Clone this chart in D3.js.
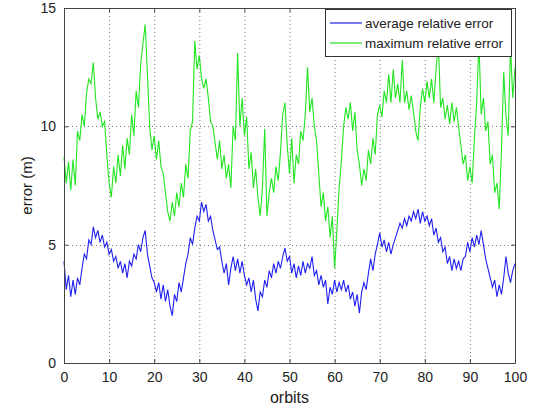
<!DOCTYPE html>
<html>
<head>
<meta charset="utf-8">
<style>
    body { margin: 0; background: #fff; }
    text { font-family: "Liberation Sans", Arial, sans-serif; fill: #222; }
    .grid line { stroke: #777; stroke-width: 1; stroke-dasharray: 1,3; }
</style>
</head>
<body>
<svg width="540" height="411"></svg>
<script src="https://cdn.jsdelivr.net/npm/d3@7"></script>
<script>
    // samples every half orbit, 0 .. 100
    var step = 0.5

    var avgError = [
        4.3, 3.1, 3.7, 2.8, 3.5, 2.9, 3.6, 3.3, 4.0, 4.6,
        4.4, 5.2, 5.0, 5.75, 5.3, 5.6, 5.1, 5.4, 4.9, 5.1,
        4.6, 4.8, 4.3, 4.5, 4.0, 4.3, 3.8, 4.2, 3.6, 4.3,
        4.1, 4.6, 4.4, 5.0, 4.7, 5.3, 5.6, 4.6, 4.1, 3.6,
        3.4, 3.0, 3.4, 2.7, 3.3, 2.6, 3.1, 2.4, 2.0, 2.9,
        2.6, 3.4, 3.0, 3.6, 4.2, 4.6, 5.3, 5.0, 5.7, 6.2,
        6.0, 6.8, 6.4, 6.7, 6.0, 6.2, 5.6, 5.2, 4.8, 4.9,
        4.3, 3.8, 4.2, 3.3, 4.0, 4.5, 3.9, 4.4, 3.8, 4.3,
        3.7, 3.3, 3.6, 3.0, 3.5, 2.7, 2.2, 3.0, 2.8, 3.5,
        3.2, 3.9, 3.6, 4.2, 3.8, 4.3, 4.0, 4.5, 4.85, 4.3,
        4.5, 3.8, 4.2, 3.6, 4.1, 3.7, 4.3, 3.8, 4.2, 4.0,
        4.5, 3.7, 3.9, 3.3, 3.7, 3.2, 3.5, 2.5, 3.2, 2.9,
        3.5, 3.0, 3.4, 3.1, 3.5, 3.0, 3.3, 2.7, 3.0, 2.4,
        2.9, 2.1, 3.0, 3.4, 3.1, 3.8, 4.4, 3.9, 4.6, 5.0,
        5.5, 4.9, 5.2, 4.7, 5.1, 4.6, 5.0, 5.3, 5.6, 5.9,
        5.7, 6.1, 5.8, 6.2, 6.0, 6.4, 6.1, 6.5, 5.9, 6.4,
        6.0, 6.2, 5.8, 6.1, 5.4, 5.7, 5.1, 5.3, 4.7, 4.9,
        4.2, 4.5, 3.9, 4.4, 4.0, 4.3, 3.9, 4.4, 4.5, 5.1,
        4.7, 5.3, 4.9, 5.4, 5.0, 5.6, 5.0, 4.4, 4.0, 3.6,
        3.2, 3.5, 2.8, 3.3, 2.9, 3.6, 4.5, 3.8, 3.4, 3.9,
        4.2
    ]

    var maxError = [
        8.7, 7.6, 8.5, 7.3, 8.6, 7.5, 9.8, 9.4, 10.5, 10.0,
        11.4, 12.0, 11.8, 12.7, 11.2, 10.3, 10.6, 10.0, 10.2, 8.8,
        7.6, 7.0, 8.3, 7.6, 8.8, 7.9, 9.2, 8.2, 9.5, 8.8,
        10.5, 9.6, 11.5, 10.8, 12.6, 13.5, 14.3, 12.2, 10.0, 9.0,
        9.6, 8.6, 9.4, 8.3, 8.0, 7.2, 6.4, 6.0, 6.8, 6.2,
        7.2, 6.6, 7.6, 7.0, 8.4, 7.8, 9.8, 10.2, 13.6, 12.4,
        13.0, 12.0, 11.6, 12.0, 11.2, 10.2, 10.0, 9.3, 8.6, 9.4,
        8.2, 8.8, 7.8, 8.4, 7.4, 10.0, 9.4, 13.1, 10.0, 11.2,
        9.6, 10.4, 8.2, 8.9, 7.4, 8.2, 7.0, 6.2, 7.4, 9.9,
        6.2, 7.2, 7.8, 7.2, 8.3, 7.7, 8.9, 10.5, 11.0, 9.2,
        8.0, 9.5, 7.6, 8.8, 8.4, 9.8, 9.4, 10.5, 12.5, 10.6,
        11.2, 10.0, 9.4, 8.0, 6.6, 7.2, 6.0, 6.6, 5.3, 6.2,
        4.0, 5.6, 7.4, 8.5, 10.0, 10.8, 10.3, 11.0, 9.8, 10.6,
        9.0, 8.4, 7.5, 8.2, 7.7, 9.0, 8.4, 9.5, 8.8, 10.5,
        10.9, 10.4, 11.5, 11.0, 12.2, 11.0, 12.4, 11.2, 11.8, 11.0,
        12.8, 11.0, 11.5, 10.7, 11.3, 10.6, 9.8, 9.4, 10.8, 11.6,
        11.0, 11.9, 11.2, 12.0, 11.0, 12.4, 13.6, 10.8, 11.2, 10.3,
        10.9, 10.1, 11.0, 10.2, 10.8, 10.0, 9.2, 8.4, 8.8, 7.7,
        8.3, 7.6, 9.5, 11.0, 13.6, 10.5, 11.2, 9.8, 10.2, 8.4,
        8.8, 7.2, 7.6, 6.5, 9.0, 12.3, 10.4, 9.6, 13.4, 11.2,
        12.5
    ]

    var xTicks = [0, 10, 20, 30, 40, 50, 60, 70, 80, 90, 100]
    var yTicks = [0, 5, 10, 15]
    var seriesNames = ["average relative error", "maximum relative error"]
    var seriesColors = ["#2020f0", "#22e622"]

    var svg = d3.select("svg")
    // note: "top" is a read-only global in browsers, so use other names
    var plotL = 64, plotR = 515, plotT = 8, plotB = 363

    var x = d3.scaleLinear().domain([0, 100]).range([plotL, plotR])
    var y = d3.scaleLinear().domain([0, 15]).range([plotB, plotT])

    // dotted grid
    var grid = svg.append("g").attr("class", "grid")
    grid.selectAll(".gx").data(xTicks.slice(1, -1)).enter().append("line")
        .attr("x1", d => x(d) + 0.5).attr("x2", d => x(d) + 0.5)
        .attr("y1", plotT).attr("y2", plotB)
    grid.selectAll(".gy").data(yTicks.slice(1, -1)).enter().append("line")
        .attr("y1", d => Math.round(y(d)) + 0.5).attr("y2", d => Math.round(y(d)) + 0.5)
        .attr("x1", plotL).attr("x2", plotR)

    var line = d3.line()
        .x((d, i) => x(i * step))
        .y(d => y(d))

    svg.append("path").datum(maxError)
        .attr("d", line)
        .attr("fill", "none")
        .attr("stroke", seriesColors[1])
        .attr("stroke-width", 1.1)

    svg.append("path").datum(avgError)
        .attr("d", line)
        .attr("fill", "none")
        .attr("stroke", seriesColors[0])
        .attr("stroke-width", 1.1)

    // axes, ticks pointing inwards like matlab
    svg.append("g").attr("transform", "translate(0," + plotB + ")")
        .call(d3.axisBottom(x).tickValues(xTicks).tickSizeInner(-4).tickSizeOuter(0).tickPadding(9))
    svg.append("g").attr("transform", "translate(0," + plotT + ")")
        .call(d3.axisTop(x).tickValues(xTicks).tickSizeInner(-4).tickSizeOuter(0).tickFormat(""))
    svg.append("g").attr("transform", "translate(" + plotL + ",0)")
        .call(d3.axisLeft(y).tickValues(yTicks).tickSizeInner(-4).tickSizeOuter(0).tickPadding(8))
    svg.append("g").attr("transform", "translate(" + plotR + ",0)")
        .call(d3.axisRight(y).tickValues(yTicks).tickSizeInner(-4).tickSizeOuter(0).tickFormat(""))

    svg.selectAll(".domain").attr("stroke", "#444")
    svg.selectAll(".tick line").attr("stroke", "#444")
    svg.selectAll(".tick text")
        .attr("font-size", 14)
        .attr("font-family", "Liberation Sans, Arial, sans-serif")
        .attr("fill", "#222")

    svg.append("text")
        .attr("x", (plotL + plotR) / 2).attr("y", 403)
        .attr("text-anchor", "middle")
        .attr("font-size", 16)
        .text("orbits")

    svg.append("text")
        .attr("transform", "translate(32," + (plotT + plotB) / 2 + ") rotate(-90)")
        .attr("text-anchor", "middle")
        .attr("font-size", 15)
        .text("error (m)")

    // legend
    var lg = svg.append("g")
    lg.append("rect")
        .attr("x", 325.5).attr("y", 9.5)
        .attr("width", 186).attr("height", 47)
        .attr("fill", "#fff").attr("stroke", "#333")
    seriesNames.forEach(function (name, i) {
        var ly = 23 + i * 20
        lg.append("line")
            .attr("x1", 330).attr("x2", 362)
            .attr("y1", ly).attr("y2", ly)
            .attr("stroke", seriesColors[i]).attr("stroke-width", 1.2)
        lg.append("text")
            .attr("x", 365).attr("y", ly + 5)
            .attr("font-size", 13.5)
            .text(name)
    })
</script>
</body>
</html>
